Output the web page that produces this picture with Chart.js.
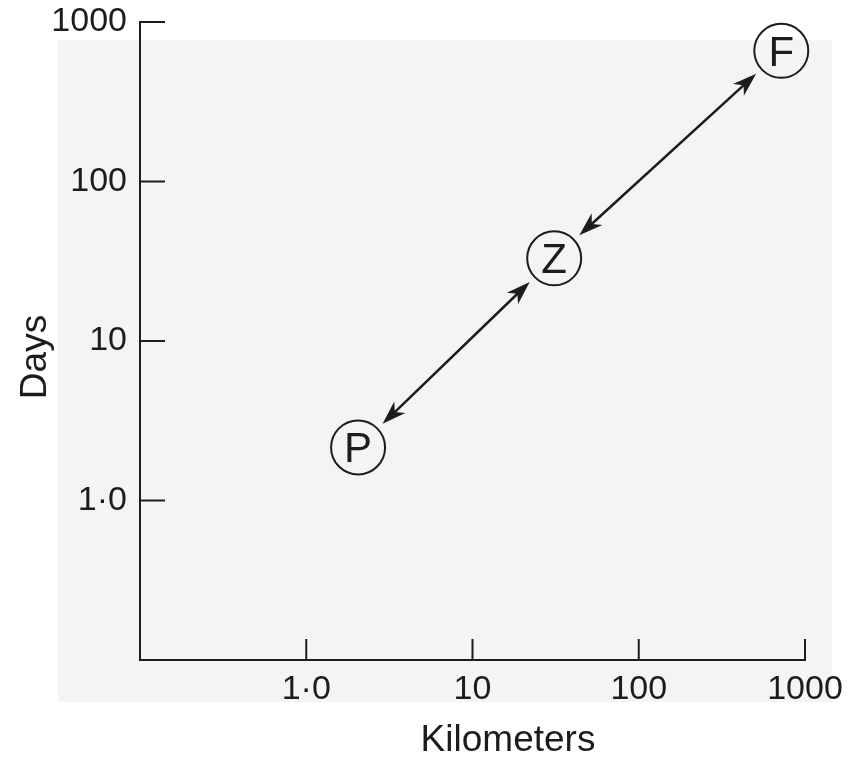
<!DOCTYPE html>
<html>
<head>
<meta charset="utf-8">
<title>Days vs Kilometers</title>
<script src="https://cdn.jsdelivr.net/npm/chart.js@4.4.1/dist/chart.umd.min.js"></script>
<style>
  html, body { margin: 0; padding: 0; background: #fff; }
  #wrap { width: 853px; height: 757px; }
</style>
</head>
<body>
<div id="wrap"><canvas id="chart" width="853" height="757"></canvas></div>
<script>
// Data (log-log)
const sites = ['P', 'Z', 'F'];
const kilometers = [2.05, 31, 720];
const days = [2.15, 33, 660];
const tickValues = [1, 10, 100, 1000];
const tickLabels = ['1·0', '10', '100', '1000'];
const axisMin = 0.1;
const axisMax = 1000;

const ink = '#1c1c1c';
const family = "'Liberation Sans', Arial, sans-serif";

function labelFor(value) {
    const i = tickValues.indexOf(value);
    return i >= 0 ? tickLabels[i] : '';
}

// Paper background (scanned page look)
const paperPlugin = {
    id: 'paper',
    beforeDraw(chart) {
        const ctx = chart.ctx;
        ctx.save();
        ctx.fillStyle = '#ffffff';
        ctx.fillRect(0, 0, chart.width, chart.height);
        ctx.fillStyle = '#f4f4f4';
        ctx.fillRect(58, 40, 774, 662);
        ctx.restore();
    }
};

// Tick marks drawn on the inside of the axes
const innerTicksPlugin = {
    id: 'innerTicks',
    afterDraw(chart) {
        const ctx = chart.ctx;
        const xs = chart.scales.x;
        const ys = chart.scales.y;
        const area = chart.chartArea;
        ctx.save();
        ctx.strokeStyle = ink;
        ctx.lineWidth = 2;
        ctx.beginPath();
        tickValues.forEach(v => {
            const px = xs.getPixelForValue(v);
            ctx.moveTo(px, area.bottom);
            ctx.lineTo(px, area.bottom - 21);
            const py = ys.getPixelForValue(v);
            ctx.moveTo(area.left, py);
            ctx.lineTo(area.left + 25, py);
        });
        ctx.stroke();
        ctx.restore();
    }
};

function arrowHead(ctx, tx, ty, ux, uy) {
    const len = 24, half = 8, notch = 17;
    const bx = tx - ux * len, by = ty - uy * len;
    const px = -uy, py = ux;
    ctx.beginPath();
    ctx.moveTo(tx, ty);
    ctx.lineTo(bx + px * half, by + py * half);
    ctx.lineTo(tx - ux * notch, ty - uy * notch);
    ctx.lineTo(bx - px * half, by - py * half);
    ctx.closePath();
    ctx.fill();
}

// Double-headed arrows between sites, and the letters in the circles
const arrowsPlugin = {
    id: 'arrows',
    afterDatasetsDraw(chart) {
        const ctx = chart.ctx;
        const pts = chart.getDatasetMeta(0).data;
        ctx.save();
        ctx.strokeStyle = ink;
        ctx.fillStyle = ink;
        ctx.lineWidth = 2.5;
        const gap = 34;
        for (let i = 0; i < pts.length - 1; i++) {
            const a = pts[i], b = pts[i + 1];
            const dx = b.x - a.x, dy = b.y - a.y;
            const d = Math.hypot(dx, dy);
            const ux = dx / d, uy = dy / d;
            const sx = a.x + ux * gap, sy = a.y + uy * gap;
            const ex = b.x - ux * gap, ey = b.y - uy * gap;
            ctx.beginPath();
            ctx.moveTo(sx + ux * 12, sy + uy * 12);
            ctx.lineTo(ex - ux * 12, ey - uy * 12);
            ctx.stroke();
            arrowHead(ctx, ex, ey, ux, uy);
            arrowHead(ctx, sx, sy, -ux, -uy);
        }
        ctx.font = '42px ' + family;
        ctx.textAlign = 'center';
        ctx.textBaseline = 'alphabetic';
        pts.forEach((p, i) => {
            ctx.fillText(sites[i], p.x, p.y + 15);
        });
        ctx.restore();
    }
};

// Axis titles
const titlesPlugin = {
    id: 'axisTitles',
    afterDraw(chart) {
        const ctx = chart.ctx;
        ctx.save();
        ctx.fillStyle = ink;
        ctx.font = '37px ' + family;
        ctx.textAlign = 'center';
        ctx.textBaseline = 'middle';
        ctx.fillText('Kilometers', 508, 741);
        ctx.translate(36, 357);
        ctx.rotate(-Math.PI / 2);
        ctx.fillText('Days', 0, 0);
        ctx.restore();
    }
};

const ctx = document.getElementById('chart').getContext('2d');

const chart = new Chart(ctx, {
    type: 'scatter',
    data: {
        labels: sites,
        datasets: [{
            label: 'Sites',
            data: kilometers.map((k, i) => ({ x: k, y: days[i] })),
            clip: false,
            pointStyle: 'circle',
            pointRadius: 27,
            pointHoverRadius: 27,
            pointBorderWidth: 2,
            pointBorderColor: ink,
            pointBackgroundColor: 'rgba(0,0,0,0)',
            showLine: false
        }]
    },
    options: {
        responsive: false,
        animation: false,
        events: [],
        layout: {
            autoPadding: false,
            padding: { left: 0, right: 48, top: 22, bottom: 0 }
        },
        plugins: {
            legend: { display: false },
            tooltip: { enabled: false }
        },
        scales: {
            x: {
                type: 'logarithmic',
                min: axisMin,
                max: axisMax,
                afterBuildTicks: s => { s.ticks = tickValues.map(v => ({ value: v })); },
                afterFit: s => { s.height = 97; s.paddingLeft = 0; s.paddingRight = 0; },
                grid: { display: false, drawTicks: false },
                border: { display: true, color: ink, width: 2 },
                ticks: {
                    callback: v => labelFor(v),
                    color: ink,
                    font: { family: family, size: 34 },
                    padding: 9,
                    maxRotation: 0,
                    autoSkip: false
                }
            },
            y: {
                type: 'logarithmic',
                min: axisMin,
                max: axisMax,
                afterBuildTicks: s => { s.ticks = tickValues.map(v => ({ value: v })); },
                afterFit: s => { s.width = 140; s.paddingTop = 0; s.paddingBottom = 0; },
                grid: { display: false, drawTicks: false },
                border: { display: true, color: ink, width: 2 },
                ticks: {
                    callback: v => labelFor(v),
                    color: ink,
                    font: { family: family, size: 34 },
                    padding: 13,
                    autoSkip: false
                }
            }
        }
    },
    plugins: [paperPlugin, innerTicksPlugin, arrowsPlugin, titlesPlugin]
});
</script>
</body>
</html>
